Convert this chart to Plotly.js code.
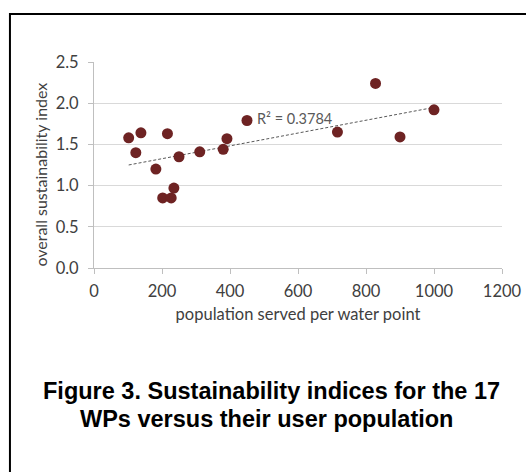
<!DOCTYPE html>
<html>
<head>
<meta charset="utf-8">
<script src="https://cdn.plot.ly/plotly-3.0.1.min.js"></script>
<style>
html,body{margin:0;padding:0;background:#fff;}
#chart{width:526px;height:472px;}
</style>
</head>
<body>
<div id="chart"></div>
<script>
// Data
var population = [102, 123, 138, 182, 202, 216, 227, 235, 250, 311, 380, 391, 450, 716, 828, 900, 1000];
var sustainabilityIndex = [1.58, 1.40, 1.64, 1.20, 0.85, 1.63, 0.85, 0.97, 1.35, 1.41, 1.44, 1.57, 1.79, 1.65, 2.24, 1.59, 1.92];
var xTickValues = [0, 200, 400, 600, 800, 1000, 1200];
var yTickValues = [0, 0.5, 1.0, 1.5, 2.0, 2.5];
var yTickLabels = ["0.0", "0.5", "1.0", "1.5", "2.0", "2.5"];
var rSquaredLabel = "R² = 0.3784";
var rSquaredPos = [473, 1.81];
var xTitle = "population served per water point";
var yTitle = "overall sustainability index";
var captionLines = ["Figure 3. Sustainability indices for the 17", "WPs versus their user population"];

// Least-squares linear trendline across the data range
var n = population.length;
var mx = population.reduce(function(a,b){return a+b;},0)/n;
var my = sustainabilityIndex.reduce(function(a,b){return a+b;},0)/n;
var sxy = 0, sxx = 0;
for (var i = 0; i < n; i++) { sxy += (population[i]-mx)*(sustainabilityIndex[i]-my); sxx += (population[i]-mx)*(population[i]-mx); }
var slope = sxy/sxx, intercept = my - slope*mx;
var xmin = Math.min.apply(null, population), xmax = Math.max.apply(null, population);
var trendX = [xmin, xmax];
var trendY = trendX.map(function(x){return intercept + slope*x;});

var tickFont = {family: "Lato, 'Open Sans', sans-serif", size: 16.5, color: "#404040"};
var titleFont = {family: "Lato, 'Open Sans', sans-serif", size: 16.5, color: "#404040"};

var traces = [
  {x: trendX, y: trendY, type: "scatter", mode: "lines",
   line: {color: "#595959", width: 1, dash: "3px,2px"}, hoverinfo: "skip", showlegend: false},
  {x: population, y: sustainabilityIndex, type: "scatter", mode: "markers",
   marker: {color: "#6e2323", size: 11, line: {width: 0}}, showlegend: false}
];

var layout = {
  width: 526, height: 472,
  margin: {l: 94, r: 24, t: 62, b: 204},
  paper_bgcolor: "#ffffff", plot_bgcolor: "#ffffff",
  showlegend: false,
  xaxis: {
    range: [0, 1200], tickvals: xTickValues, ticktext: xTickValues.map(String),
    showgrid: false, zeroline: false, showline: true, linecolor: "#bfbfbf", linewidth: 1,
    ticks: "outside", ticklen: 5, tickcolor: "#bfbfbf", tickfont: tickFont,
    ticklabelstandoff: 3,
    title: {text: xTitle, font: titleFont, standoff: 8},
    automargin: false, fixedrange: true
  },
  yaxis: {
    range: [0, 2.5], tickvals: yTickValues, ticktext: yTickLabels,
    showgrid: true, gridcolor: "#d9d9d9", gridwidth: 1, zeroline: false,
    showline: true, linecolor: "#bfbfbf", linewidth: 1,
    ticks: "outside", ticklen: 5, tickcolor: "#bfbfbf", tickfont: tickFont,
    ticklabelstandoff: 6,
    automargin: false, fixedrange: true
  },
  annotations: [
    {x: -0.132, y: 0.454, xref: "paper", yref: "paper", text: yTitle, textangle: -90,
     showarrow: false, xanchor: "center", yanchor: "middle",
     font: {family: "Lato, 'Open Sans', sans-serif", size: 16, color: "#404040"}},
    {x: rSquaredPos[0], y: rSquaredPos[1], xref: "x", yref: "y", text: rSquaredLabel,
     showarrow: false, xanchor: "left", yanchor: "middle",
     font: {family: "Lato, 'Open Sans', sans-serif", size: 14.5, color: "#595959"}},
    {x: 0.436, y: -0.597, xref: "paper", yref: "paper", text: "<b>" + captionLines[0] + "</b>",
     showarrow: false, xanchor: "center", yanchor: "middle",
     font: {family: "'Liberation Sans', Arial, sans-serif", size: 23.5, color: "#000000"}},
    {x: 0.424, y: -0.735, xref: "paper", yref: "paper", text: "<b>" + captionLines[1] + "</b>",
     showarrow: false, xanchor: "center", yanchor: "middle",
     font: {family: "'Liberation Sans', Arial, sans-serif", size: 23.5, color: "#000000"}}
  ],
  shapes: [
    {type: "rect", xref: "paper", yref: "paper", x0: -0.206, x1: 1.2, y0: -1.2, y1: 1.233,
     line: {color: "#000000", width: 2}, fillcolor: "rgba(0,0,0,0)", layer: "above"}
  ]
};

Plotly.newPlot("chart", traces, layout, {staticPlot: true, displayModeBar: false});
</script>
</body>
</html>
